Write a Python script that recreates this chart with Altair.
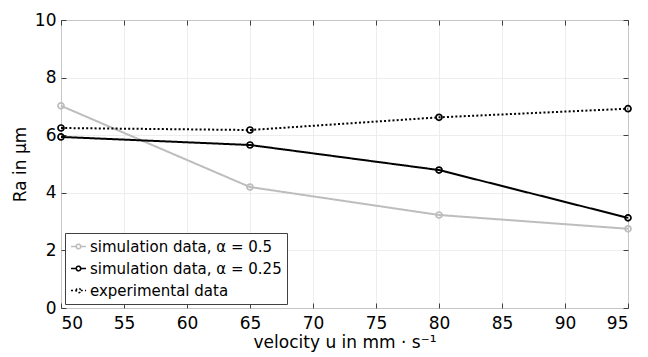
import altair as alt
import pandas as pd

velocity = [50, 65, 80, 95]
sim_a05 = [7.02, 4.20, 3.23, 2.75]
sim_a025 = [5.94, 5.66, 4.79, 3.13]
experimental = [6.25, 6.18, 6.62, 6.92]

series_names = ["simulation data, α = 0.5", "simulation data, α = 0.25", "experimental data"]
series_colors = ["#bdbdbd", "#000000", "#000000"]
series_dash = [[1, 0], [1, 0], [2, 2.2]]

x_ticks = [50, 55, 60, 65, 70, 75, 80, 85, 90, 95]
y_ticks = [0, 2, 4, 6, 8, 10]

rows = []
for name, vals in zip(series_names, [sim_a05, sim_a025, experimental]):
    for v, r in zip(velocity, vals):
        rows.append({"u": v, "Ra": r, "series": name})
df = pd.DataFrame(rows)

W, H = 567, 288
FONT = "DejaVu Sans"
FRAME = "#404040"

xscale = alt.Scale(domain=[50, 95], nice=False, zero=False)
yscale = alt.Scale(domain=[0, 10], nice=False)
cscale = alt.Scale(domain=series_names, range=series_colors)
dscale = alt.Scale(domain=series_names, range=series_dash)

sym = "M-1,0H-0.3M0.3,0H1M-0.3,0A0.3,0.3,0,1,1,0.3,0A0.3,0.3,0,1,1,-0.3,0"

legend = alt.Legend(
    title=None, orient="bottom-left", offset=4, strokeColor=FRAME, fillColor="white",
    padding=5, rowPadding=5, labelFont=FONT, labelFontSize=15, labelColor="black",
    symbolType=sym, symbolSize=225, symbolStrokeWidth=1.6, labelLimit=0, labelOffset=3,
)

base = alt.Chart(df)

lines = base.mark_line(strokeWidth=2).encode(
    x=alt.X("u:Q", scale=xscale, axis=alt.Axis(
        values=x_ticks, grid=True, ticks=False, domain=False, gridColor="#e8e8e8", gridWidth=0.8,
        labelFont=FONT, labelFontSize=17, labelColor="black", labelPadding=7,
        title="velocity u in mm · s⁻¹", titleFont=FONT, titleFontSize=17,
        titleFontWeight="normal", titleColor="black", titlePadding=3)),
    y=alt.Y("Ra:Q", scale=yscale, axis=alt.Axis(
        values=y_ticks, grid=True, ticks=False, domain=False, gridColor="#e8e8e8", gridWidth=0.8,
        labelFont=FONT, labelFontSize=17, labelColor="black", labelPadding=5, format="d",
        title="Ra in μm", titleFont=FONT, titleFontSize=17, titleFontWeight="normal",
        titleColor="black", titlePadding=5)),
    color=alt.Color("series:N", scale=cscale, legend=legend, sort=series_names),
    strokeDash=alt.StrokeDash("series:N", scale=dscale, legend=legend, sort=series_names),
)

def tick_axis(orient, offset, vals):
    return alt.Axis(orient=orient, offset=offset, values=vals, labels=False, grid=False,
                    domain=False, ticks=True, tickSize=5, tickColor=FRAME, tickWidth=1, title=None)

points = base.mark_point(filled=False, size=36, strokeWidth=1.7, opacity=1).encode(
    x=alt.X("u:Q", scale=xscale, axis=tick_axis("top", -H, x_ticks)),
    y=alt.Y("Ra:Q", scale=yscale, axis=tick_axis("right", -W, y_ticks)),
    color=alt.Color("series:N", scale=cscale, legend=None),
)

ghost = base.mark_point(opacity=0).encode(
    x=alt.X("u:Q", scale=xscale, axis=tick_axis("bottom", -H, x_ticks)),
    y=alt.Y("Ra:Q", scale=yscale, axis=tick_axis("left", -W, y_ticks)),
)

chart = alt.layer(lines, points, ghost).resolve_axis(
    x="independent", y="independent"
).properties(
    width=W, height=H,
    autosize=alt.AutoSizeParams(type="none"),
    padding={"left": 53, "top": 12, "right": 12, "bottom": 49},
    background="white",
).configure_view(stroke=FRAME, strokeWidth=1)

chart.save("out.html", embed_options={"renderer": "svg", "actions": False})
